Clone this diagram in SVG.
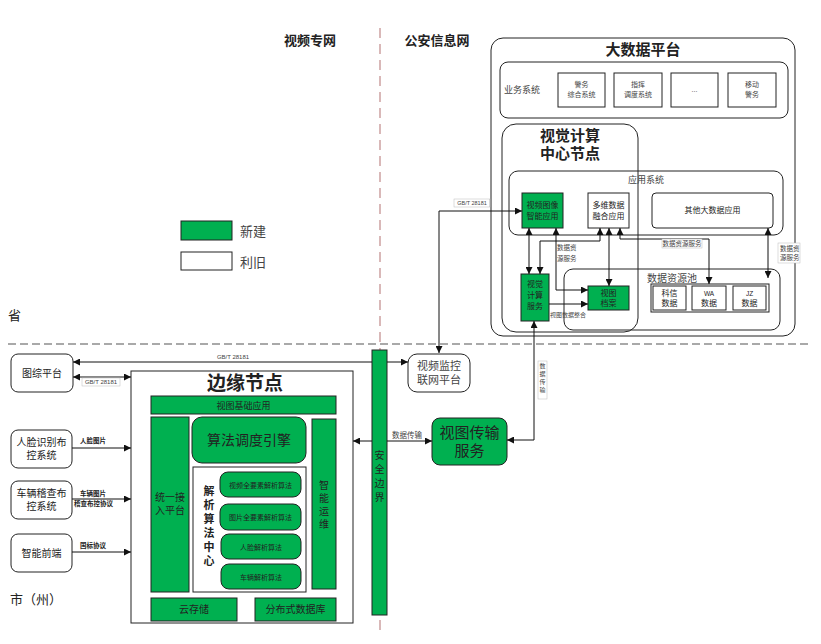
<svg xmlns="http://www.w3.org/2000/svg" width="821" height="644" viewBox="0 0 821 644">
<style>
text{font-family:"Liberation Sans","Noto Sans CJK SC",sans-serif;fill:#222}
.g{fill:#00b050;stroke:#222;stroke-width:1}
.w{fill:#fff;stroke:#222;stroke-width:1}
.wl{fill:none;stroke:#222;stroke-width:1}
.ln{fill:none;stroke:#111;stroke-width:1}
.b{font-weight:bold}
.s7{font-size:7px}
.s8{font-size:8px}
.s9{font-size:9px}
.s10{font-size:10px}
.gray{fill:#444}
.lab{fill:#fff;stroke:#bbb;stroke-width:0.5}
</style>
<defs>
<marker id="a" viewBox="0 0 10 10" refX="10" refY="5" markerWidth="7" markerHeight="7" markerUnits="userSpaceOnUse" orient="auto-start-reverse">
<path d="M0,0 L10,5 L0,10 z" fill="#111"/>
</marker>
</defs>
<rect width="821" height="644" fill="#fff"/>

<!-- zone lines -->
<g id="zones">
<line x1="380" y1="28" x2="380" y2="636" stroke="#d9b8b8" stroke-width="2" stroke-dasharray="10,6"/>
<line x1="8" y1="344" x2="810" y2="344" stroke="#555" stroke-width="1.2" stroke-dasharray="8,4"/>
<text x="310" y="45" text-anchor="middle" class="b" font-size="13">视频专网</text>
<text x="437" y="45" text-anchor="middle" class="b" font-size="13">公安信息网</text>
<text x="8" y="320" font-size="13">省</text>
<text x="10" y="604" font-size="13">市（州）</text>
</g>

<!-- legend -->
<g id="legend">
<rect x="181" y="221" width="51" height="19" class="g"/>
<text x="240" y="236" font-size="13" class="gray">新建</text>
<rect x="181" y="252" width="51" height="18" class="w"/>
<text x="240" y="267" font-size="13" class="gray">利旧</text>
</g>

<!-- big data platform -->
<g id="bigdata">
<rect x="491" y="38" width="304" height="298" rx="12" class="wl"/>
<text x="643" y="55" text-anchor="middle" class="b" font-size="15">大数据平台</text>
</g>
<g id="yewu">
<rect x="500" y="62" width="288" height="56" rx="8" class="wl"/>
<text x="504" y="93" class="s9 gray">业务系统</text>
</g>
<g id="jingwu">
<rect x="558" y="73" width="47" height="34" class="w"/>
<text x="581.5" y="87" text-anchor="middle" class="s7 gray">警务</text>
<text x="581.5" y="97" text-anchor="middle" class="s7 gray">综合系统</text>
</g>
<g id="zhihui">
<rect x="614" y="73" width="48" height="34" class="w"/>
<text x="638" y="87" text-anchor="middle" class="s7 gray">指挥</text>
<text x="638" y="97" text-anchor="middle" class="s7 gray">调度系统</text>
</g>
<g id="dots">
<rect x="671" y="73" width="47" height="34" class="w"/>
<text x="694.5" y="92" text-anchor="middle" class="s7 gray">...</text>
</g>
<g id="yidong">
<rect x="728" y="73" width="48" height="34" class="w"/>
<text x="752" y="87" text-anchor="middle" class="s7 gray">移动</text>
<text x="752" y="97" text-anchor="middle" class="s7 gray">警务</text>
</g>

<g id="vcc">
<rect x="502" y="124" width="136" height="208" rx="14" class="wl"/>
<text x="570" y="141" text-anchor="middle" class="b" font-size="15">视觉计算</text>
<text x="570" y="159" text-anchor="middle" class="b" font-size="15">中心节点</text>
</g>
<g id="app">
<rect x="509" y="171" width="274" height="64" rx="9" class="wl"/>
<text x="646" y="183" text-anchor="middle" class="s9 gray">应用系统</text>
</g>
<g id="spzn">
<rect x="522" y="193" width="41" height="35" class="g"/>
<text x="542.5" y="208" text-anchor="middle" class="s8">视频图像</text>
<text x="542.5" y="219" text-anchor="middle" class="s8">智能应用</text>
</g>
<g id="dwsj">
<rect x="588" y="193" width="41" height="35" class="w"/>
<text x="608.5" y="208" text-anchor="middle" class="s8">多维数据</text>
<text x="608.5" y="219" text-anchor="middle" class="s8">融合应用</text>
</g>
<g id="qita">
<rect x="652" y="193" width="121" height="35" rx="4" class="w"/>
<text x="712.5" y="213" text-anchor="middle" class="s8">其他大数据应用</text>
</g>
<g id="pool">
<rect x="564" y="269" width="216" height="61" rx="9" class="wl"/>
<text x="672" y="282" text-anchor="middle" font-size="10" class="gray">数据资源池</text>
<rect x="651" y="284" width="118" height="28" class="w"/>
</g>
<g id="kexin">
<rect x="653" y="286" width="33" height="24" class="w"/>
<text x="669.5" y="296" text-anchor="middle" class="s8">科信</text>
<text x="669.5" y="306" text-anchor="middle" class="s8">数据</text>
</g>
<g id="wa">
<rect x="692" y="286" width="34" height="24" class="w"/>
<text x="709" y="296" text-anchor="middle" font-size="6.5">WA</text>
<text x="709" y="306" text-anchor="middle" class="s8">数据</text>
</g>
<g id="jz">
<rect x="733" y="286" width="33" height="24" class="w"/>
<text x="749.5" y="296" text-anchor="middle" font-size="6.5">JZ</text>
<text x="749.5" y="306" text-anchor="middle" class="s8">数据</text>
</g>
<g id="vcs">
<rect x="521" y="274" width="28" height="47" class="g"/>
<text x="535" y="287" text-anchor="middle" class="s8">视觉</text>
<text x="535" y="298" text-anchor="middle" class="s8">计算</text>
<text x="535" y="309" text-anchor="middle" class="s8">服务</text>
</g>
<g id="stda">
<rect x="588" y="286" width="41" height="24" class="g"/>
<text x="608.5" y="296" text-anchor="middle" class="s8">视图</text>
<text x="608.5" y="306" text-anchor="middle" class="s8">档案</text>
</g>

<!-- left systems -->
<g id="tuzong">
<rect x="11" y="354" width="62" height="38" rx="7" class="w"/>
<text x="42" y="377" text-anchor="middle" class="s10">图综平台</text>
</g>
<g id="renlian">
<rect x="11" y="430" width="61" height="38" rx="7" class="w"/>
<text x="41.5" y="446" text-anchor="middle" class="s10">人脸识别布</text>
<text x="41.5" y="459" text-anchor="middle" class="s10">控系统</text>
</g>
<g id="cheliang">
<rect x="11" y="481" width="61" height="38" rx="7" class="w"/>
<text x="41.5" y="497" text-anchor="middle" class="s10">车辆稽查布</text>
<text x="41.5" y="510" text-anchor="middle" class="s10">控系统</text>
</g>
<g id="qianduan">
<rect x="11" y="534" width="61" height="38" rx="7" class="w"/>
<text x="41.5" y="557" text-anchor="middle" class="s10">智能前端</text>
</g>

<!-- edge node -->
<g id="edge">
<rect x="131" y="371" width="222" height="252" class="wl" stroke="#444"/>
<text x="245" y="390" text-anchor="middle" class="b" font-size="19">边缘节点</text>
</g>
<g id="stjc">
<rect x="151" y="396" width="185" height="18" class="g"/>
<text x="243.5" y="409" text-anchor="middle" class="s9">视图基础应用</text>
</g>
<g id="tyjr">
<rect x="151" y="417" width="38" height="175" class="g"/>
<text x="170" y="501" text-anchor="middle" class="s10">统一接</text>
<text x="170" y="514" text-anchor="middle" class="s10">入平台</text>
</g>
<g id="sfdd">
<rect x="192" y="417" width="114" height="46" rx="10" class="g"/>
<text x="249" y="445" text-anchor="middle" font-size="14">算法调度引擎</text>
</g>
<g id="znyw">
<rect x="312" y="419" width="24" height="170" class="g"/>
<text x="324" y="489" text-anchor="middle" class="s10">智</text>
<text x="324" y="502" text-anchor="middle" class="s10">能</text>
<text x="324" y="515" text-anchor="middle" class="s10">运</text>
<text x="324" y="528" text-anchor="middle" class="s10">维</text>
</g>
<g id="jxzx">
<rect x="193" y="467" width="113" height="125" class="w"/>
<text x="209" y="495" text-anchor="middle" class="b" font-size="11">解</text>
<text x="209" y="509" text-anchor="middle" class="b" font-size="11">析</text>
<text x="209" y="523" text-anchor="middle" class="b" font-size="11">算</text>
<text x="209" y="537" text-anchor="middle" class="b" font-size="11">法</text>
<text x="209" y="551" text-anchor="middle" class="b" font-size="11">中</text>
<text x="209" y="565" text-anchor="middle" class="b" font-size="11">心</text>
</g>
<g id="alg1">
<rect x="220" y="472" width="81" height="25" rx="8" class="g"/>
<text x="260.5" y="488" text-anchor="middle" class="s7">视频全要素解析算法</text>
</g>
<g id="alg2">
<rect x="220" y="504" width="81" height="26" rx="8" class="g" stroke="#6c6"/>
<text x="260.5" y="520" text-anchor="middle" class="s7">图片全要素解析算法</text>
</g>
<g id="alg3">
<rect x="221" y="534" width="80" height="25" rx="8" class="g"/>
<text x="261" y="550" text-anchor="middle" class="s7">人脸解析算法</text>
</g>
<g id="alg4">
<rect x="221" y="564" width="80" height="25" rx="8" class="g"/>
<text x="261" y="580" text-anchor="middle" class="s7">车辆解析算法</text>
</g>
<g id="yuncc">
<rect x="151" y="598" width="86" height="23" class="g"/>
<text x="194" y="613" text-anchor="middle" class="s10">云存储</text>
</g>
<g id="fbsk">
<rect x="255" y="598" width="81" height="23" class="g"/>
<text x="295.5" y="613" text-anchor="middle" class="s10">分布式数据库</text>
</g>

<!-- security boundary -->
<g id="aqbj">
<rect x="372" y="350" width="15" height="265" class="g"/>
<text x="379.5" y="459" text-anchor="middle" class="s10">安</text>
<text x="379.5" y="473" text-anchor="middle" class="s10">全</text>
<text x="379.5" y="487" text-anchor="middle" class="s10">边</text>
<text x="379.5" y="501" text-anchor="middle" class="s10">界</text>
</g>
<g id="spjk">
<rect x="408" y="354" width="62" height="38" rx="9" class="w" stroke="#555"/>
<text x="439" y="370" text-anchor="middle" font-size="11" class="gray">视频监控</text>
<text x="439" y="384" text-anchor="middle" font-size="11" class="gray">联网平台</text>
</g>
<g id="stcs">
<rect x="432" y="418" width="75" height="47" rx="8" class="g"/>
<text x="469.5" y="438" text-anchor="middle" font-size="15">视图传输</text>
<text x="469.5" y="456" text-anchor="middle" font-size="15">服务</text>
</g>

<!-- connectors -->
<g id="connectors">
<path d="M439,353 V211 H522" class="ln" marker-start="url(#a)" marker-end="url(#a)"/>
<rect x="454" y="199" width="36" height="8" class="lab" stroke="none"/>
<text x="472" y="205" text-anchor="middle" font-size="5.5" class="gray">GB/T 28181</text>
<line x1="490" y1="199" x2="490" y2="207" stroke="#999" stroke-width="0.5"/>
<path d="M529,228 V274" class="ln" marker-start="url(#a)" marker-end="url(#a)"/>
<path d="M600,228 V241 H540 V274" class="ln" marker-start="url(#a)" marker-end="url(#a)"/>
<path d="M556,228 V290 H588" class="ln" marker-start="url(#a)" marker-end="url(#a)"/>
<text x="557" y="250" font-size="6.5" class="gray">数据资</text>
<text x="557" y="261" font-size="6.5" class="gray">源服务</text>
<path d="M609,228 V286" class="ln" marker-start="url(#a)" marker-end="url(#a)"/>
<path d="M620,228 V239 H709 V284" class="ln" marker-start="url(#a)" marker-end="url(#a)"/>
<rect x="662" y="239" width="40" height="9" class="lab"/>
<text x="682" y="246" text-anchor="middle" font-size="6.5" class="gray">数据资源服务</text>
<path d="M768,228 V278" class="ln" marker-start="url(#a)" marker-end="url(#a)"/>
<rect x="778" y="243" width="22" height="20" class="lab" stroke="#ddd"/>
<text x="780" y="251" font-size="6.5" class="gray">数据资</text>
<text x="780" y="260" font-size="6.5" class="gray">源服务</text>
<path d="M549,304 H588" class="ln" marker-end="url(#a)"/>
<text x="550" y="317" font-size="6" class="gray">视图数据整合</text>
<path d="M507,440 H534 V321" class="ln" marker-start="url(#a)" marker-end="url(#a)"/>
<rect x="538" y="361" width="9" height="38" class="lab" stroke="#ddd"/>
<text x="542.5" y="368" text-anchor="middle" font-size="6" class="gray">数</text>
<text x="542.5" y="376" text-anchor="middle" font-size="6" class="gray">据</text>
<text x="542.5" y="384" text-anchor="middle" font-size="6" class="gray">传</text>
<text x="542.5" y="392" text-anchor="middle" font-size="6" class="gray">输</text>
<path d="M387,441 H432" class="ln" marker-end="url(#a)"/>
<path d="M372,441 H353" class="ln" marker-end="url(#a)"/>
<text x="407" y="438" text-anchor="middle" font-size="7.5" class="gray">数据传输</text>
<path d="M372,362 H73" class="ln" marker-end="url(#a)"/>
<text x="233" y="359" text-anchor="middle" font-size="6" class="gray">GB/T 28181</text>
<path d="M387,362 H408" class="ln" marker-end="url(#a)"/>
<path d="M73,377 H131" class="ln" marker-start="url(#a)" marker-end="url(#a)"/>
<rect x="82" y="378" width="38" height="8" class="lab"/>
<text x="101" y="384" text-anchor="middle" font-size="6" class="gray">GB/T 28181</text>
<path d="M72,448 H131" class="ln" marker-end="url(#a)"/>
<text x="80" y="443" font-size="6.5" class="b">人脸图片</text>
<path d="M72,499 H131" class="ln" marker-end="url(#a)"/>
<text x="80" y="496" font-size="6.5" class="b">车辆图片</text>
<text x="74" y="506" font-size="6.5" class="b">稽查布控协议</text>
<path d="M72,552 H131" class="ln" marker-end="url(#a)"/>
<text x="80" y="548" font-size="6.5" class="b">国标协议</text>
</g>
</svg>
